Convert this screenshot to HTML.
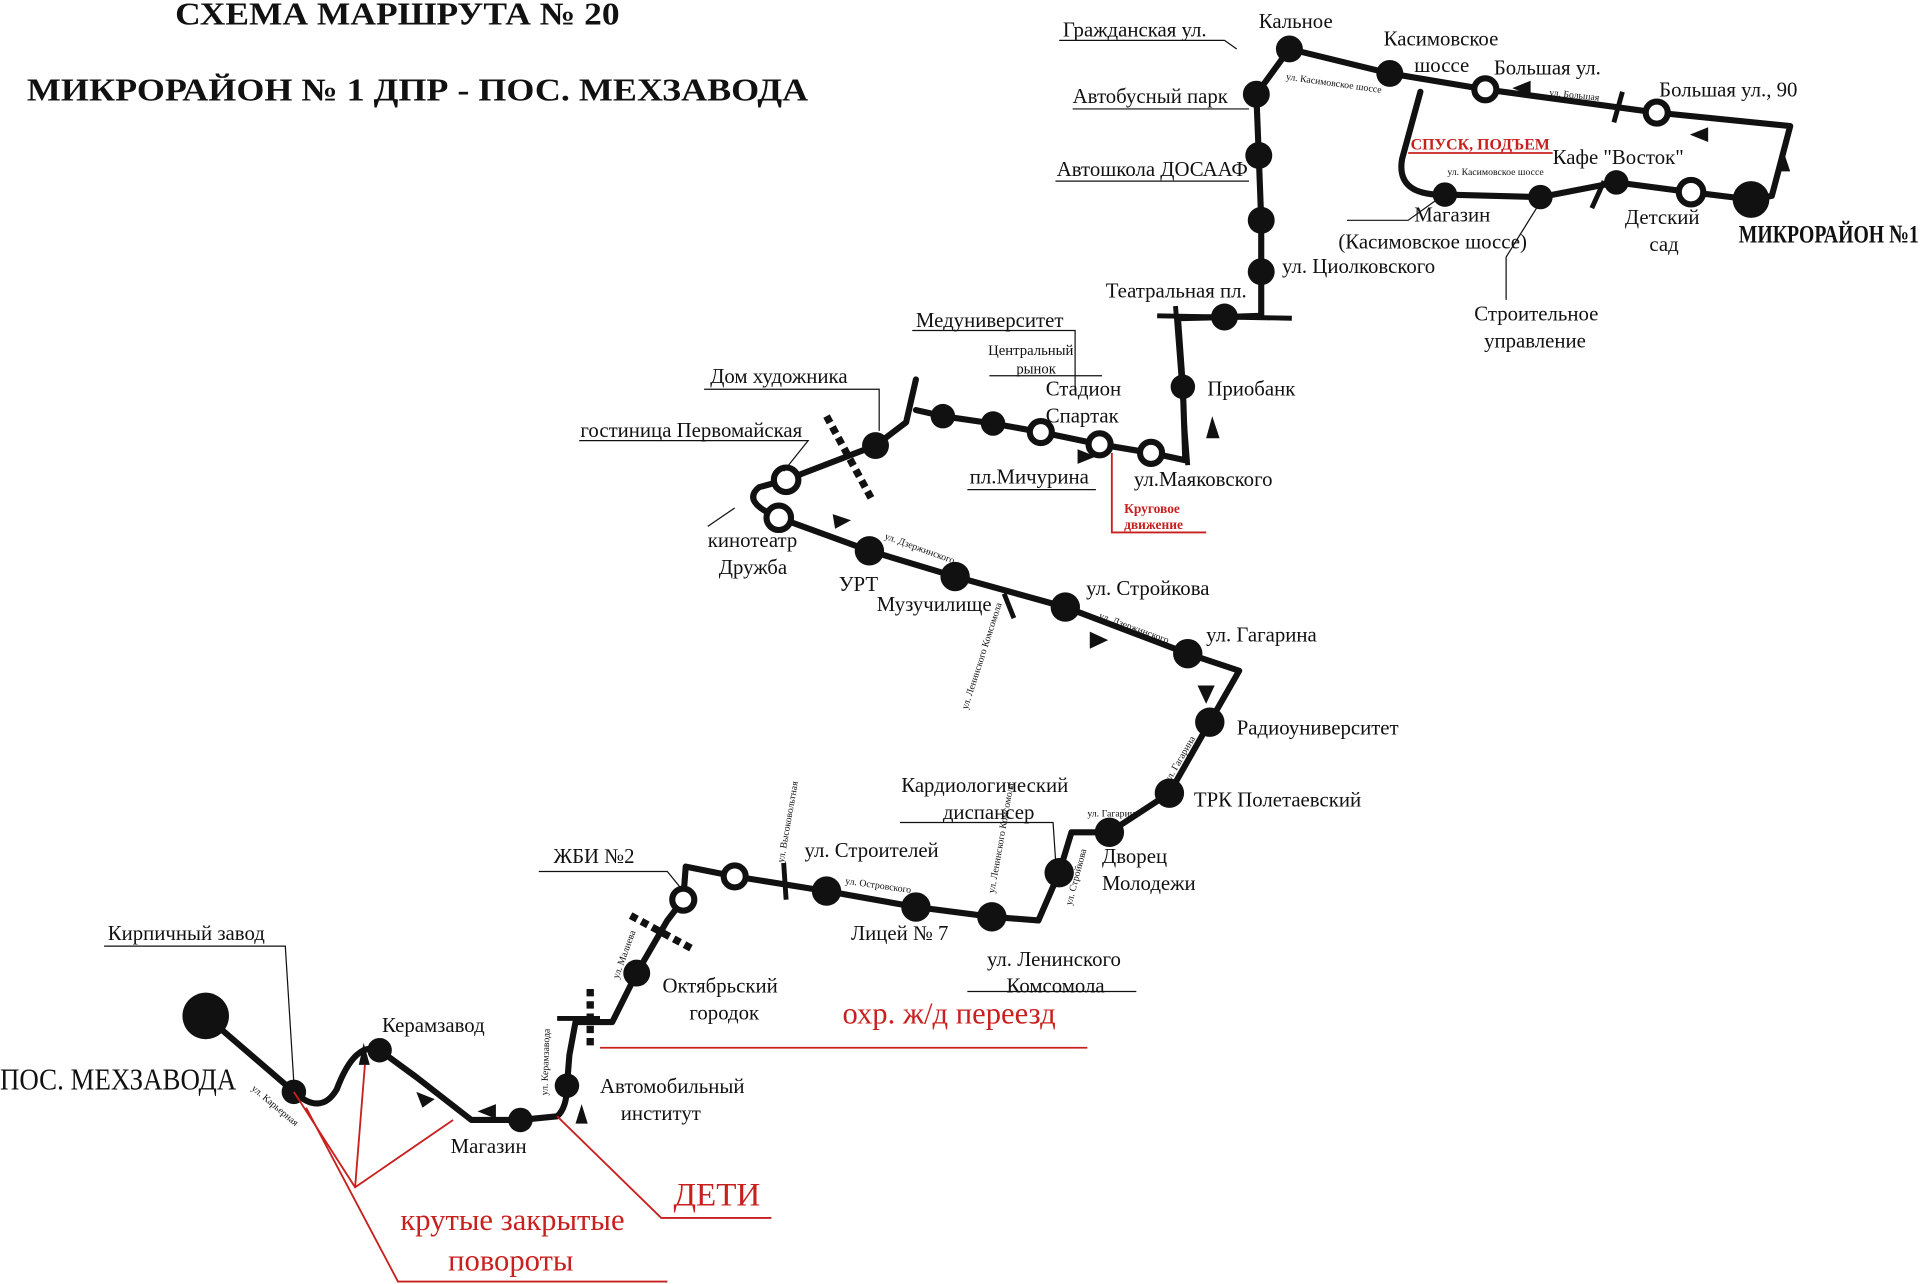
<!DOCTYPE html>
<html><head><meta charset="utf-8"><style>
html,body{margin:0;padding:0;background:#fff;width:1920px;height:1284px;overflow:hidden}
svg{display:block}
text{font-family:"Liberation Serif",serif;fill:#111}
.r{fill:#c8201e}
.s{font-size:17px}
.t{font-size:8px}
</style></head><body>
<svg width="1920" height="1284" viewBox="0 0 1568 1049" preserveAspectRatio="none">
<text x="143" y="20" font-size="26" font-weight="bold" textLength="363" lengthAdjust="spacingAndGlyphs">СХЕМА МАРШРУТА № 20</text>
<text x="22" y="82" font-size="26" font-weight="bold" textLength="638" lengthAdjust="spacingAndGlyphs">МИКРОРАЙОН № 1 ДПР - ПОС. МЕХЗАВОДА</text>

<g fill="none" stroke="#111" stroke-width="5" stroke-linejoin="round" stroke-linecap="round">
<path d="M168,830 L240,892 Q262,912 275,890 Q290,850 310,858 L340,880 L385,915 L425,915 L455,912 Q463,905 463,887 L465,862 L470,835 L500,835 L520,795 L545,752 L558,735 L560,708 L600,716 L675,728 L748,741 L810,749 L848,752 L865,713 L875,680 L906,680 L955,648 L988,590 L1012,548 L970,534 L870,496 L780,471 L710,450 L636,423 Q605,410 620,398 L642,392 L715,364 L740,345 L748,310"/>
<path d="M748,335 L770,340 L811,346 L850,353 L898,363 L940,370 L968,376 L966,316 L962,260 L1000,259 L1030,258 L1030,222 L1030,180 L1028,127 L1026,77 L1053,40 L1135,60 L1213,73 L1353,92 L1462,103 L1447,160 L1430,163 L1381,157 L1320,149 L1258,161 L1180,159 Q1140,160 1145,130 L1160,75"/>
</g>
<g stroke="#111" stroke-width="4" fill="none">
<path d="M945,258 L1055,260"/><path d="M960,250 L970,380"/>
<path d="M455,832 L490,832"/><path d="M482,808 L482,858" stroke-dasharray="6,4" stroke-width="6"/>
<path d="M515,748 L565,775" stroke-dasharray="6,4" stroke-width="6"/>
<path d="M675,340 L712,408" stroke-dasharray="6,4" stroke-width="6"/>
<path d="M640,705 L642,735"/><path d="M820,485 L828,505"/><path d="M1310,148 L1300,170"/><path d="M1325,75 L1318,100"/>
</g>
<g fill="#111">
<circle cx="168" cy="830" r="19"/><circle cx="1430" cy="163" r="15"/>
<circle cx="240" cy="892" r="10"/><circle cx="310" cy="858" r="10"/><circle cx="425" cy="915" r="10"/><circle cx="463" cy="887" r="10"/>
<circle cx="520" cy="795" r="11"/><circle cx="675" cy="728" r="12"/><circle cx="748" cy="741" r="12"/><circle cx="810" cy="749" r="12"/>
<circle cx="865" cy="713" r="12"/><circle cx="906" cy="680" r="12"/><circle cx="955" cy="648" r="12"/><circle cx="988" cy="590" r="12"/>
<circle cx="970" cy="534" r="12"/><circle cx="870" cy="496" r="12"/><circle cx="780" cy="471" r="12"/><circle cx="710" cy="450" r="12"/>
<circle cx="715" cy="364" r="11"/><circle cx="770" cy="340" r="10"/><circle cx="811" cy="346" r="10"/>
<circle cx="966" cy="316" r="10"/><circle cx="1000" cy="259" r="11"/><circle cx="1030" cy="222" r="11"/><circle cx="1030" cy="180" r="11"/>
<circle cx="1028" cy="127" r="11"/><circle cx="1026" cy="77" r="11"/><circle cx="1053" cy="40" r="11"/><circle cx="1135" cy="60" r="11"/>
<circle cx="1258" cy="161" r="10"/><circle cx="1320" cy="149" r="10"/><circle cx="1180" cy="159" r="10"/>
</g>
<g fill="#fff" stroke="#111" stroke-width="5">
<circle cx="600" cy="716" r="9"/><circle cx="558" cy="735" r="9"/><circle cx="642" cy="392" r="10"/><circle cx="636" cy="423" r="10"/>
<circle cx="850" cy="353" r="9"/><circle cx="898" cy="363" r="9"/><circle cx="940" cy="370" r="9"/>
<circle cx="1213" cy="73" r="9"/><circle cx="1353" cy="92" r="9"/><circle cx="1381" cy="157" r="10"/>
</g>

<g stroke="#111" stroke-width="1" fill="none">
<path d="M85,773 L233,773 L240,885"/><path d="M440,712 L545,712 L558,728"/><path d="M865,33 L1000,33 L1010,40"/><path d="M876,89 L1020,89"/>
<path d="M862,148 L1020,148"/><path d="M745,270 L878,270 L878,320"/><path d="M808,307 L900,307"/><path d="M575,318 L718,318 L718,352"/>
<path d="M473,360 L660,360 L640,385"/><path d="M600,415 L578,430"/><path d="M735,672 L860,672 L862,702"/><path d="M790,810 L928,810"/>
<path d="M790,400 L895,400"/><path d="M1258,165 L1230,210 L1230,245"/><path d="M1100,180 L1150,180 L1175,162"/>
</g>
<g stroke="#c8201e" stroke-width="1.5" fill="none">
<path d="M490,856 L888,856"/><path d="M908,370 L908,435 L985,435"/><path d="M1150,125 L1268,125"/>
<path d="M240,892 L290,970 L370,915"/><path d="M290,970 L298,870"/><path d="M250,905 L325,1047 L545,1047"/><path d="M455,912 L540,995 L630,995"/>
</g>

<g class="s">
<text x="88" y="768">Кирпичный завод</text>
<text x="0" y="890" font-size="25" textLength="193" lengthAdjust="spacingAndGlyphs">ПОС. МЕХЗАВОДА</text>
<text x="312" y="843">Керамзавод</text>
<text x="368" y="942">Магазин</text>
<text x="490" y="893">Автомобильный</text><text x="507" y="915">институт</text>
<text x="541" y="811">Октябрьский</text><text x="563" y="833">городок</text>
<text x="452" y="705">ЖБИ №2</text>
<text x="657" y="700">ул. Строителей</text>
<text x="695" y="768">Лицей № 7</text>
<text x="806" y="789">ул. Ленинского</text><text x="822" y="811">Комсомола</text>
<text x="736" y="647">Кардиологический</text><text x="770" y="669">диспансер</text>
<text x="900" y="705">Дворец</text><text x="900" y="727">Молодежи</text>
<text x="975" y="659">ТРК Полетаевский</text>
<text x="1010" y="600">Радиоуниверситет</text>
<text x="985" y="524">ул. Гагарина</text>
<text x="887" y="486">ул. Стройкова</text>
<text x="716" y="499">Музучилище</text>
<text x="685" y="483">УРТ</text>
<text x="578" y="447">кинотеатр</text><text x="587" y="469">Дружба</text>
<text x="474" y="357">гостиница Первомайская</text>
<text x="580" y="313">Дом художника</text>
<text x="748" y="267">Медуниверситет</text>
<text x="807" y="290" font-size="12">Центральный</text><text x="830" y="305" font-size="12">рынок</text>
<text x="854" y="323">Стадион</text><text x="854" y="345">Спартак</text>
<text x="792" y="395">пл.Мичурина</text>
<text x="926" y="397">ул.Маяковского</text>
<text x="986" y="323">Приобанк</text>
<text x="903" y="243">Театральная пл.</text>
<text x="1047" y="223">ул. Циолковского</text>
<text x="863" y="144">Автошкола ДОСААФ</text>
<text x="876" y="84">Автобусный парк</text>
<text x="868" y="30">Гражданская ул.</text>
<text x="1028" y="23">Кальное</text>
<text x="1130" y="37">Касимовское</text><text x="1155" y="59">шоссе</text>
<text x="1220" y="61">Большая ул.</text>
<text x="1355" y="79">Большая ул., 90</text>
<text x="1268" y="134">Кафе "Восток"</text>
<text x="1155" y="181">Магазин</text><text x="1093" y="203">(Касимовское шоссе)</text>
<text x="1327" y="183">Детский</text><text x="1347" y="205">сад</text>
<text x="1204" y="262">Строительное</text><text x="1212" y="284">управление</text>
<text x="1420" y="198" font-size="21" font-weight="bold" textLength="147" lengthAdjust="spacingAndGlyphs">МИКРОРАЙОН №1</text>
</g>
<g class="t">
<text x="1050" y="65" transform="rotate(8 1050 65)">ул. Касимовское шоссе</text>
<text x="1265" y="78" transform="rotate(6 1265 78)">ул. Большая</text>
<text x="1182" y="143">ул. Касимовское шоссе</text>
<text x="722" y="440" transform="rotate(20 722 440)">ул. Дзержинского</text>
<text x="897" y="505" transform="rotate(20 897 505)">ул. Дзержинского</text>
<text x="790" y="580" transform="rotate(-72 790 580)">ул. Ленинского Комсомола</text>
<text x="955" y="640" transform="rotate(-60 955 640)">ул. Гагарина</text>
<text x="888" y="667">ул. Гагарина</text>
<text x="875" y="740" transform="rotate(-75 875 740)">ул. Стройкова</text>
<text x="812" y="730" transform="rotate(-80 812 730)">ул. Ленинского Комсомола</text>
<text x="690" y="722" transform="rotate(8 690 722)">ул. Островского</text>
<text x="640" y="705" transform="rotate(-80 640 705)">ул. Высоковольтная</text>
<text x="505" y="800" transform="rotate(-70 505 800)">ул. Малиева</text>
<text x="447" y="895" transform="rotate(-88 447 895)">ул. Керамзавода</text>
<text x="205" y="890" transform="rotate(40 205 890)">ул. Карьерная</text>
</g>
<g font-weight="bold">
<text x="1152" y="122" font-size="13" class="r">СПУСК, ПОДЪЕМ</text>
<text x="918" y="419" font-size="11" class="r">Круговое</text><text x="918" y="432" font-size="11" class="r">движение</text>
</g>
<text x="688" y="836" font-size="25" class="r">охр. ж/д переезд</text>
<text x="550" y="985" font-size="27" class="r">ДЕТИ</text>
<text x="327" y="1005" font-size="25" class="r">крутые закрытые</text>
<text x="366" y="1038" font-size="25" class="r">повороты</text>
<g fill="#111">
<path d="M470,918 L475,902 L480,918Z"/><path d="M985,358 L990,340 L996,358Z"/><path d="M1450,140 L1456,122 L1462,140Z"/>
<path d="M905,523 L890,516 L890,530Z"/><path d="M985,575 L978,560 L992,560Z"/><path d="M1235,72 L1250,66 L1250,78Z"/>
<path d="M390,908 L405,902 L405,914Z"/><path d="M355,898 L340,892 L345,905Z"/><path d="M293,870 L297,852 L302,870Z"/>
<path d="M895,373 L880,367 L880,379Z"/><path d="M1380,110 L1395,104 L1395,116Z"/><path d="M695,425 L680,420 L682,432Z"/>
</g>
</svg>
</body></html>
